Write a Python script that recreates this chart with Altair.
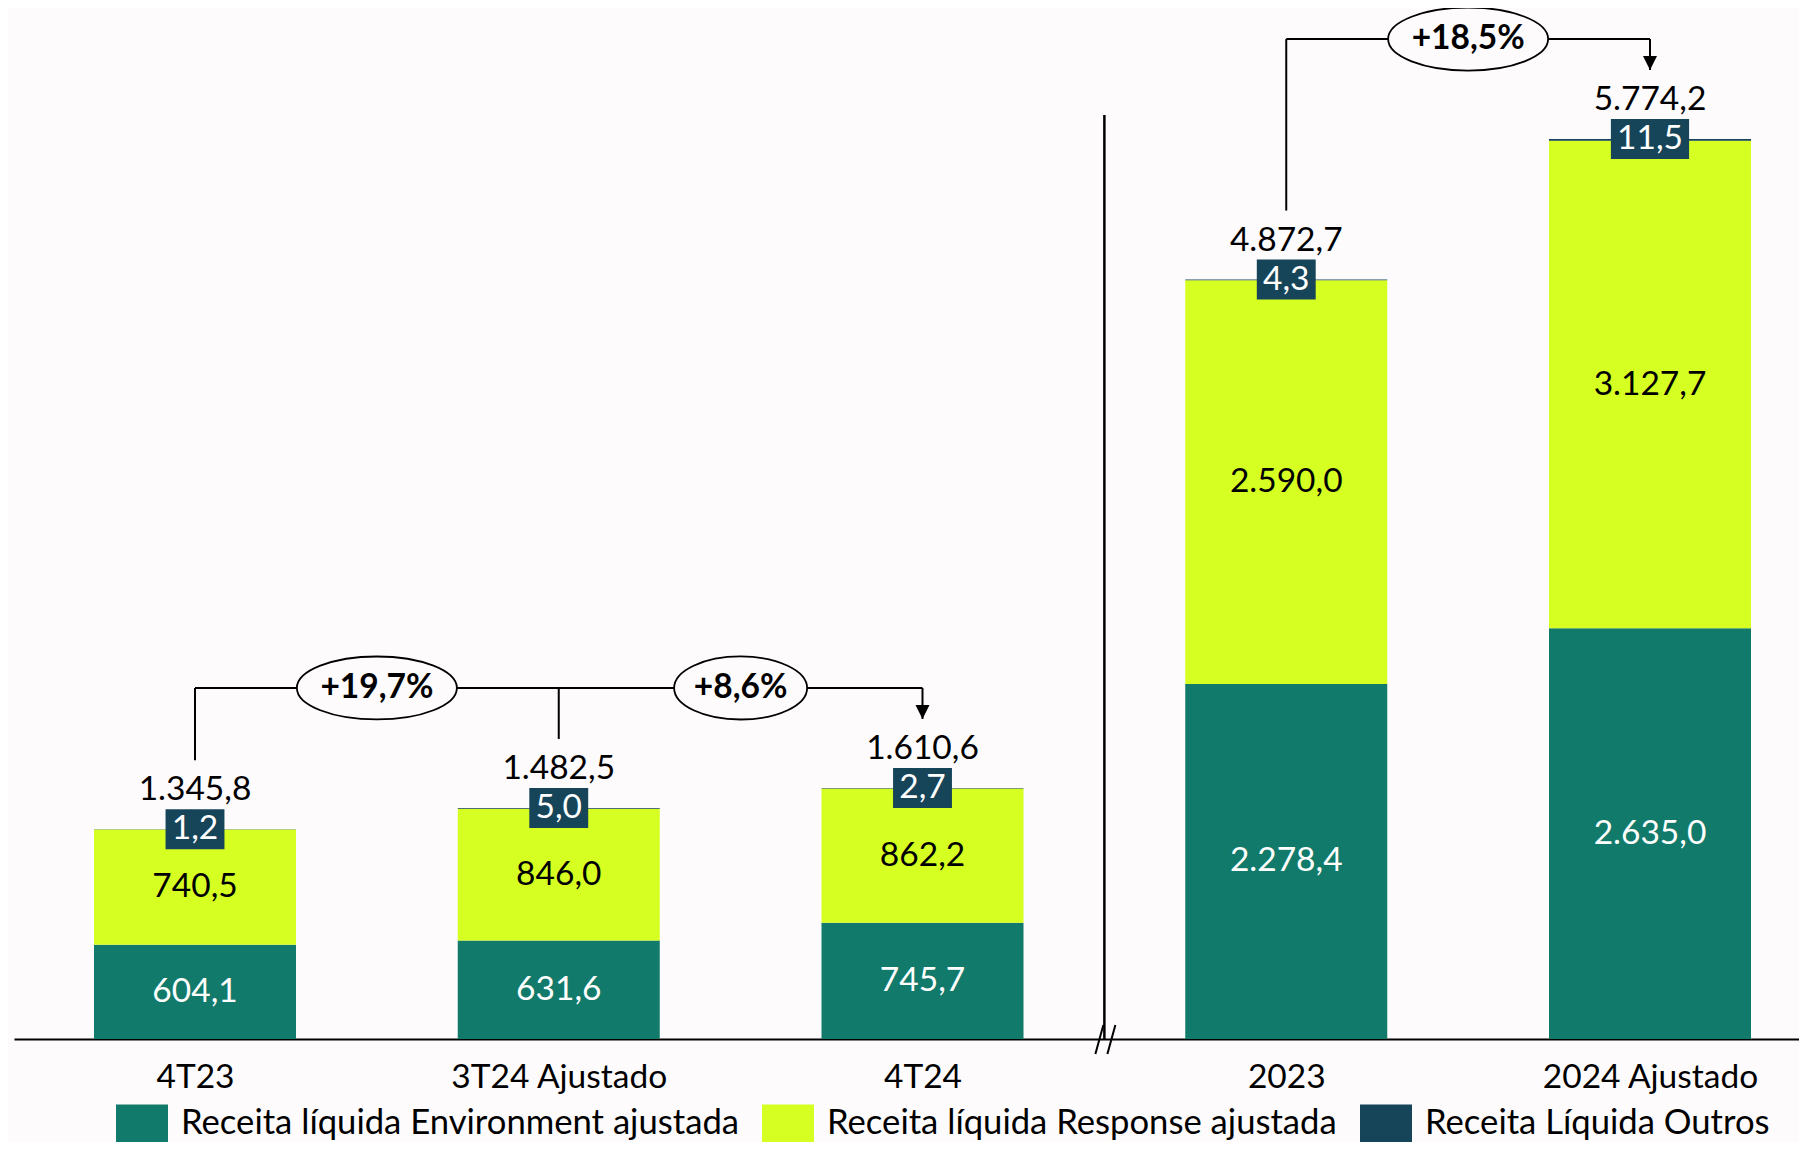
import json
import altair as alt
import pandas as pd

# ---------------- data ----------------
categories = ["4T23", "3T24 Ajustado", "4T24", "2023", "2024 Ajustado"]
environment = [604.1, 631.6, 745.7, 2278.4, 2635.0]
response = [740.5, 846.0, 862.2, 2590.0, 3127.7]
outros = [1.2, 5.0, 2.7, 4.3, 11.5]
totals = [1345.8, 1482.5, 1610.6, 4872.7, 5774.2]
series_names = [
    "Receita líquida Environment ajustada",
    "Receita líquida Response ajustada",
    "Receita Líquida Outros",
]
pct_labels = ["+19,7%", "+8,6%", "+18,5%"]
pct_between = [(0, 1), (1, 2), (3, 4)]
bracket_groups = [[0, 1, 2], [3, 4]]

# ---------------- style ----------------
COLORS = ["#117A6B", "#D6FF22", "#16455A"]
BG = "#FDFBFC"
FONT = "Lato"
FS = 33.5
LFS = 34.65
W, H = 1785, 1031
PX_PER_UNIT = H / 6615.0


def br(v):
    s = f"{v:,.1f}"
    return s.replace(",", "X").replace(".", ",").replace("X", ".")


def ellipse_path(ry):
    k = 0.5523
    return (f"M -1 0 C -1 {-k*ry:.4f} {-k:.4f} {-ry:.4f} 0 {-ry:.4f} "
            f"C {k:.4f} {-ry:.4f} 1 {-k*ry:.4f} 1 0 "
            f"C 1 {k*ry:.4f} {k:.4f} {ry:.4f} 0 {ry:.4f} "
            f"C {-k:.4f} {ry:.4f} -1 {k*ry:.4f} -1 0 Z")


def rect_path(ry):
    return f"M -1 {-ry:.4f} L 1 {-ry:.4f} L 1 {ry:.4f} L -1 {ry:.4f} Z"


# stacked segments
rows = []
for i, cat in enumerate(categories):
    start = 0.0
    for s, vals in enumerate([environment, response, outros]):
        v = vals[i]
        rows.append(dict(idx=i, cat=cat, series=series_names[s], order=s,
                         start=start, end=start + v, mid=start + v / 2,
                         label=br(v),
                         tcolor="white" if s == 0 else "black"))
        start += v
seg = pd.DataFrame(rows)

tops = [environment[i] + response[i] + outros[i] for i in range(len(categories))]
boxes = pd.DataFrame(dict(
    idx=list(range(len(categories))),
    top=tops,
    label=[br(v) for v in outros],
    total=[br(v) for v in totals],
))
box_w = [19.3 * len(l) + 1 for l in boxes["label"]]
box_h = 40
boxes["shp"] = [rect_path(box_h / w) for w in box_w]
boxes["sz"] = [w * w for w in box_w]

# brackets
LINE_GAP = 69 / PX_PER_UNIT
BRACKET_GAP = 100 / PX_PER_UNIT
h_rows, v_rows, arrows = [], [], []
for g in bracket_groups:
    yb = max(totals[i] for i in g) + BRACKET_GAP
    h_rows.append(dict(x0=g[0], x1=g[-1], y=yb))
    for j, i in enumerate(g):
        last = j == len(g) - 1
        v_rows.append(dict(x=i, ytop=yb, ybot=totals[i] + LINE_GAP, arrow=last))
        if last:
            arrows.append(dict(x=i, y=totals[i] + LINE_GAP))
hdf = pd.DataFrame(h_rows)
vdf = pd.DataFrame(v_rows)
adf = pd.DataFrame(arrows)

pct_rows = []
for lab, (a, b), g in zip(pct_labels, pct_between, [0, 0, 1]):
    w = 160 if len(lab) > 5 else 133
    pct_rows.append(dict(x=(a + b) / 2, y=h_rows[g]["y"], label=lab,
                         shp=ellipse_path(31.5 / (w / 2)), sz=w * w))
pdf = pd.DataFrame(pct_rows)

# ---------------- scales ----------------
STEP = 363.75
X0 = 181
xscale = alt.Scale(domain=[-X0 / STEP, (W - X0) / STEP], nice=False, zero=False, padding=0)
yscale = alt.Scale(domain=[0, 6615], nice=False, zero=True)
label_expr = json.dumps(categories) + "[datum.value]"
xaxis = alt.Axis(values=list(range(len(categories))), labelExpr=label_expr,
                 domain=True, domainColor="black", domainWidth=2, ticks=False,
                 grid=False, labelFont=FONT, labelFontSize=FS, labelColor="black",
                 labelPadding=22, labelFlush=False, labelOverlap=False,
                 labelLimit=1000, title=None)

legend = alt.Legend(orient="none", legendX=102, legendY=1090, direction="horizontal",
                    title=None, symbolType=rect_path(0.77), symbolSize=2704,
                    symbolStrokeWidth=0, symbolOpacity=1, labelFont=FONT,
                    labelFontSize=LFS, labelColor="black", labelOffset=13,
                    columnPadding=23, padding=0, labelLimit=2000)

bars = alt.Chart(seg).mark_bar(width=202).encode(
    x=alt.X("idx:Q", scale=xscale, axis=xaxis),
    y=alt.Y("start:Q", scale=yscale, axis=None),
    y2="end:Q",
    color=alt.Color("series:N", scale=alt.Scale(domain=series_names, range=COLORS),
                    legend=legend),
)

seg_text = alt.Chart(seg[seg["order"] < 2]).mark_text(
    font=FONT, fontSize=FS, baseline="middle", align="center"
).encode(
    x="idx:Q", y="mid:Q", text="label:N",
    color=alt.Color("tcolor:N", scale=None),
)

h_rules = alt.Chart(hdf).mark_rule(color="black", strokeWidth=2).encode(
    x="x0:Q", x2="x1:Q", y="y:Q")
v_rules = alt.Chart(vdf).mark_rule(color="black", strokeWidth=2).encode(
    x="x:Q", y="ytop:Q", y2="ybot:Q")
arrowheads = alt.Chart(adf).mark_point(
    shape="M -1 -1 L 1 -1 L 0 1 Z", filled=True, color="black", opacity=1,
    size=196, yOffset=-7, strokeWidth=0
).encode(x="x:Q", y="y:Q")

ellipses = alt.Chart(pdf).mark_point(
    filled=False, fill=BG, fillOpacity=1, stroke="black", strokeWidth=1.8, opacity=1
).encode(
    x="x:Q", y="y:Q",
    shape=alt.Shape("shp:N", scale=None),
    size=alt.Size("sz:Q", scale=None),
)
pct_text = alt.Chart(pdf).mark_text(
    font=FONT, fontSize=FS, fontWeight="bold", baseline="middle", align="center",
    color="black"
).encode(x="x:Q", y="y:Q", text="label:N")

box_marks = alt.Chart(boxes).mark_point(
    filled=True, color=COLORS[2], opacity=1, strokeWidth=0
).encode(
    x="idx:Q", y="top:Q",
    shape=alt.Shape("shp:N", scale=None),
    size=alt.Size("sz:Q", scale=None),
)
box_text = alt.Chart(boxes).mark_text(
    font=FONT, fontSize=FS, baseline="middle", align="center", color="white"
).encode(x="idx:Q", y="top:Q", text="label:N")
total_text = alt.Chart(boxes).mark_text(
    font=FONT, fontSize=FS, baseline="alphabetic", align="center", color="black", dy=-29
).encode(x="idx:Q", y="top:Q", text="total:N")

# separator between quarterly and annual blocks
sep_df = pd.DataFrame([dict(x=2.5, y0=0, y1=5928)])
separator = alt.Chart(sep_df).mark_rule(color="black", strokeWidth=2.5).encode(
    x="x:Q", y="y0:Q", y2="y1:Q")
brk1 = alt.Chart(sep_df).mark_rule(
    color="black", strokeWidth=2, xOffset=-9, x2Offset=-1, yOffset=15, y2Offset=-14
).encode(x="x:Q", x2="x:Q", y="y0:Q", y2="y0:Q")
brk2 = alt.Chart(sep_df).mark_rule(
    color="black", strokeWidth=2, xOffset=3, x2Offset=11, yOffset=15, y2Offset=-14
).encode(x="x:Q", x2="x:Q", y="y0:Q", y2="y0:Q")

chart = alt.layer(
    bars, seg_text, h_rules, v_rules, arrowheads, ellipses, pct_text,
    box_marks, box_text, total_text, separator, brk1, brk2
).properties(
    width=W, height=H,
    autosize=alt.AutoSizeParams(type="none"),
    padding={"left": 6, "top": 0, "right": 0, "bottom": 103},
    background=BG,
).configure_view(stroke=None)

chart.save("out.html", embed_options={"renderer": "svg", "actions": False})
